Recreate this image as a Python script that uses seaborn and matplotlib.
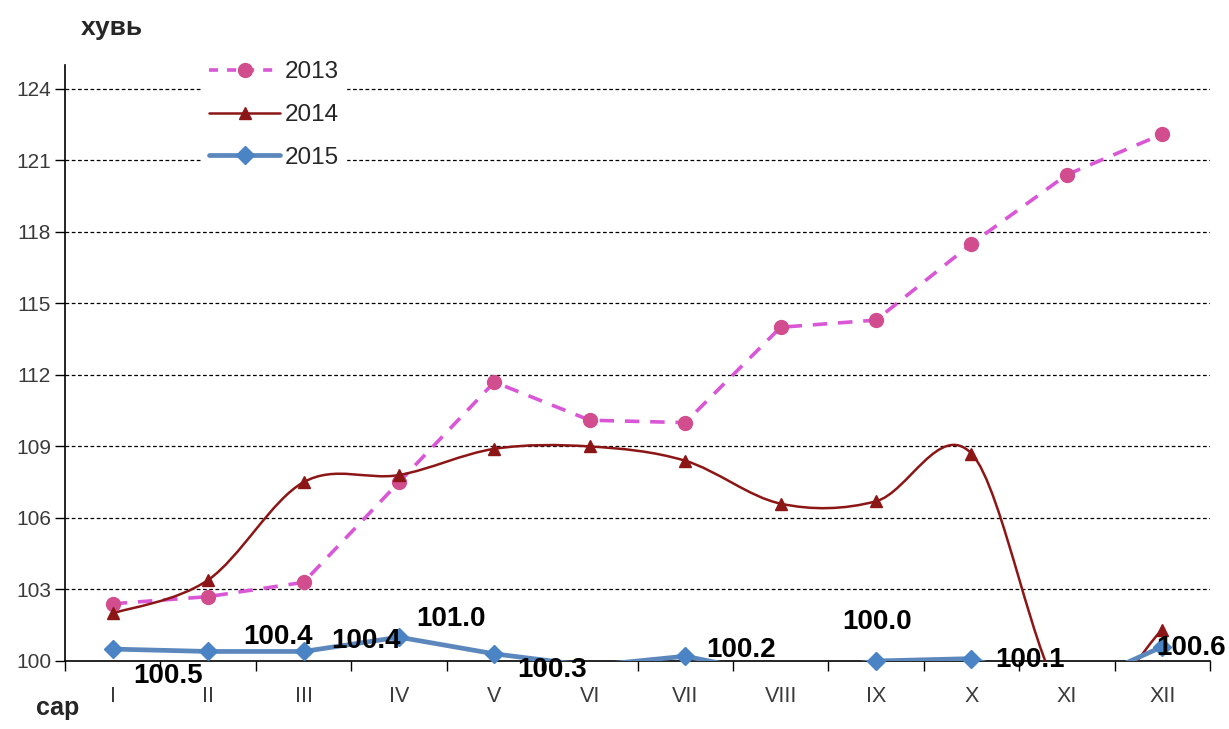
import numpy as np
import pandas as pd
import matplotlib
matplotlib.use("Agg")
import matplotlib.pyplot as plt
import seaborn as sns
from matplotlib.path import Path
from matplotlib.patches import PathPatch
from matplotlib.lines import Line2D

sns.set_style("white")
plt.rcParams["font.family"] = ["Liberation Sans", "DejaVu Sans"]

# ---------- data ----------
months = ["I", "II", "III", "IV", "V", "VI", "VII", "VIII", "IX", "X", "XI", "XII"]
y2013 = [102.4, 102.7, 103.3, 107.5, 111.7, 110.1, 110.0, 114.0, 114.3, 117.5, 120.4, 122.1]
y2014 = [102.0, 103.4, 107.5, 107.8, 108.9, 109.0, 108.4, 106.6, 106.7, 108.7, 98.3, 101.3]
y2015 = [100.5, 100.4, 100.4, 101.0, 100.3, 99.8, 100.2, 99.4, 100.0, 100.1, 98.8, 100.6]
yticks = list(range(100, 125, 3))

# label offsets (pixels) for the 2015 values that show above the axis
label_dx = [55, 70, 62, 52, 58, 0, 56, 0, 1, 59, 0, 29]
label_dy = [-27, 14, 10, 18, -16, 0, 6, 0, 39, -1, 0, -1]

c13_line, c13_mark = "#d957d6", "#d24d8e"
c14 = "#8c1616"
c15_line, c15_mark = "#5b87bd", "#4a84c4"

x = np.arange(len(months))
df = pd.DataFrame({"x": x, "2013": y2013, "2014": y2014, "2015": y2015})
ymin = yticks[0]


def smooth_path(xs, ys):
    # excel-like smoothing: cubic bezier with catmull-rom control points
    pts = np.column_stack([xs, ys]).astype(float)
    ext = np.vstack([pts[0], pts, pts[-1]])
    verts = [tuple(pts[0])]
    codes = [Path.MOVETO]
    for i in range(len(pts) - 1):
        p0, p1, p2, p3 = ext[i], ext[i + 1], ext[i + 2], ext[i + 3]
        c1 = p1 + (p2 - p0) / 6.0
        c2 = p2 - (p3 - p1) / 6.0
        verts += [tuple(c1), tuple(c2), tuple(p2)]
        codes += [Path.CURVE4] * 3
    return Path(verts, codes)


fig = plt.figure(figsize=(12.29, 7.29), dpi=100)
ax = fig.add_axes([65 / 1229, 1 - 661 / 729, 1145 / 1229, 596 / 729])

# grid lines
for t in yticks[1:]:
    ax.axhline(t, color="black", lw=0.9, ls=(0, (3, 2)), zorder=0)

# 2013 dashed
sns.lineplot(data=df, x="x", y="2013", ax=ax, color=c13_line, lw=2.6,
             linestyle=(0, (4, 3)), sort=False, zorder=3)
vis = df[df["2013"] >= ymin]
ax.plot(vis["x"], vis["2013"], ls="none", marker="o", ms=10, color=c13_mark,
        mec=c13_mark, zorder=4, clip_on=False)

# 2014 smoothed
ax.add_patch(PathPatch(smooth_path(df["x"], df["2014"]), fill=False,
                       edgecolor=c14, lw=1.8, zorder=3))
vis = df[df["2014"] >= ymin]
ax.plot(vis["x"], vis["2014"], ls="none", marker="^", ms=8, color=c14,
        mec=c14, zorder=4, clip_on=False)

# 2015
sns.lineplot(data=df, x="x", y="2015", ax=ax, color=c15_line, lw=3.4,
             sort=False, zorder=3)
vis = df[df["2015"] >= ymin]
ax.plot(vis["x"], vis["2015"], ls="none", marker="D", ms=9, color=c15_mark,
        mec=c15_mark, zorder=4, clip_on=False)

for i, v in enumerate(y2015):
    if v >= ymin:
        ax.annotate(f"{v:.1f}", xy=(i, v), xytext=(label_dx[i], label_dy[i]),
                    textcoords="offset pixels", ha="center", va="center",
                    fontsize=20, fontweight="bold", color="black",
                    zorder=6, annotation_clip=False)

ax.set_xlim(-0.5, len(months) - 0.5)
ax.set_ylim(ymin, 125)
ax.set_yticks(yticks)
ax.set_xticks(x)
ax.set_xticklabels(months)
ax.set_xticks(np.arange(-0.5, len(months)), minor=True)
ax.tick_params(axis="x", which="major", length=0, pad=18, labelsize=15.5,
               labelcolor="#3a3a3a")
ax.tick_params(axis="x", which="minor", length=7, width=1, direction="out",
               color="black", bottom=True)
ax.tick_params(axis="y", length=7, width=1, direction="out", left=True,
               labelsize=15, labelcolor="#3a3a3a", color="black", pad=3)
ax.set_xlabel("")
ax.set_ylabel("")
for s in ["top", "right"]:
    ax.spines[s].set_visible(False)
for s in ["left", "bottom"]:
    ax.spines[s].set_color("black")
    ax.spines[s].set_linewidth(1.2)

handles = [
    Line2D([], [], color=c13_line, lw=2.6, ls=(0, (2.5, 2.5)), marker="o", ms=10,
           mfc=c13_mark, mec=c13_mark),
    Line2D([], [], color=c14, lw=1.8, marker="^", ms=8, mfc=c14, mec=c14),
    Line2D([], [], color=c15_line, lw=3.4, marker="D", ms=9, mfc=c15_mark, mec=c15_mark),
]
leg = fig.legend(handles, ["2013", "2014", "2015"], loc="upper left",
                 bbox_to_anchor=(190 / 1229, 1 - 42 / 729), fontsize=17.5,
                 frameon=True, facecolor="white", edgecolor="white", framealpha=1,
                 handlelength=2.9, labelspacing=0.85, borderpad=0.3,
                 handletextpad=0.2, fancybox=False)
leg.set_zorder(10)

fig.text(112 / 1229, 1 - 28 / 729, "хувь", fontsize=19, fontweight="bold",
         ha="center", va="center")
fig.text(58 / 1229, 1 - 708 / 729, "сар", fontsize=18, fontweight="bold",
         ha="center", va="center")

fig.savefig("out.png", dpi=100)
